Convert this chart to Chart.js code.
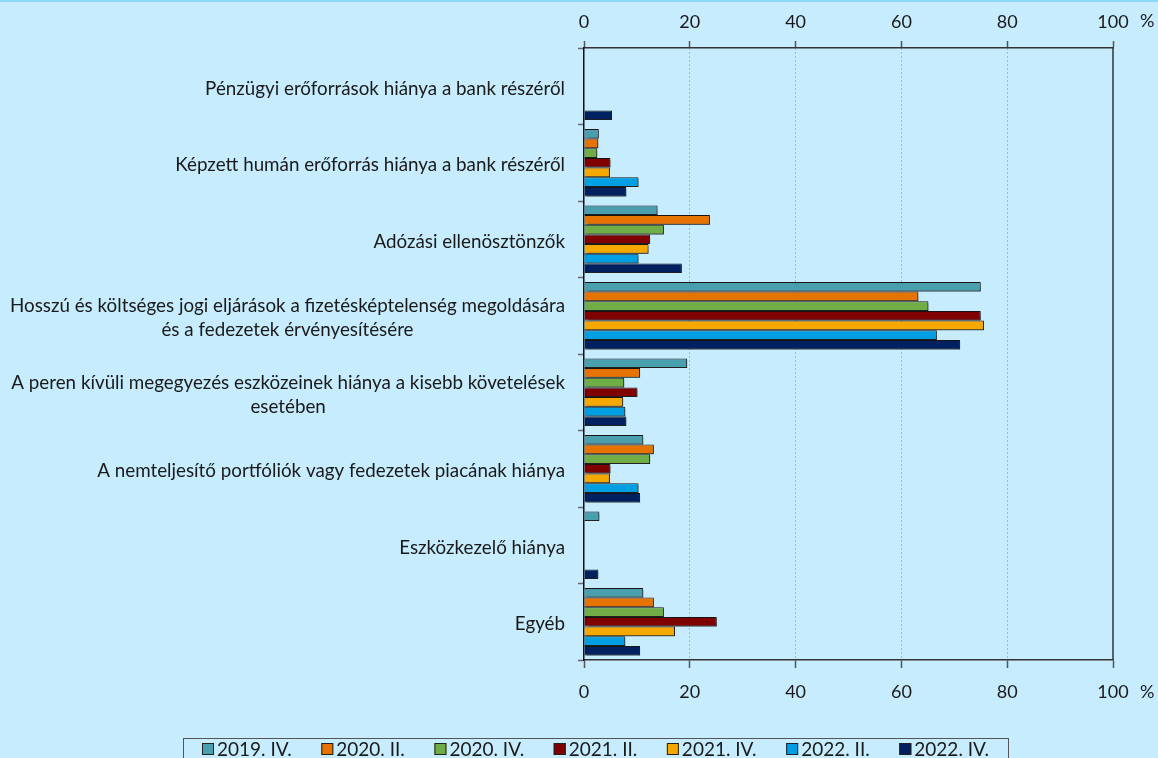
<!DOCTYPE html>
<html>
<head>
<meta charset="utf-8">
<script src="https://cdn.jsdelivr.net/npm/chart.js@4"></script>
<style>
  html, body { margin:0; padding:0; background:#C6ECFD; overflow:hidden; }
  #wrap { width:1158px; height:758px; position:relative; }
</style>
</head>
<body>
<div id="wrap"><canvas id="chart"></canvas></div>
<script>
// kategóriák (felülről lefelé)
const categories = [
  ["Pénzügyi erőforrások hiánya a bank részéről"],
  ["Képzett humán erőforrás hiánya a bank részéről"],
  ["Adózási ellenösztönzők"],
  ["Hosszú és költséges jogi eljárások a fizetésképtelenség megoldására", "és a fedezetek érvényesítésére"],
  ["A peren kívüli megegyezés eszközeinek hiánya a kisebb követelések", "esetében"],
  ["A nemteljesítő portfóliók vagy fedezetek piacának hiánya"],
  ["Eszközkezelő hiánya"],
  ["Egyéb"]
];

// felmérési időpontok
const seriesNames = ["2019. IV.", "2020. II.", "2020. IV.", "2021. II.", "2021. IV.", "2022. II.", "2022. IV."];
const seriesColors = ["#4A9FAF", "#E67300", "#70AD47", "#800000", "#F5A800", "#009FE3", "#002060"];

// értékek (%), null = nincs oszlop
const s2019IV = [null, 2.8, 13.9, 75.0, 19.5, 11.2, 2.9, 11.2];
const s2020II = [null, 2.7, 23.8, 63.2, 10.6, 13.2, null, 13.2];
const s2020IV = [null, 2.5, 15.1, 65.1, 7.6, 12.5, null, 15.1];
const s2021II = [null, 5.0, 12.5, 75.0, 10.1, 5.0, null, 25.1];
const s2021IV = [null, 4.9, 12.2, 75.6, 7.4, 4.9, null, 17.2];
const s2022II = [null, 10.3, 10.3, 66.7, 7.8, 10.3, null, 7.8];
const s2022IV = [5.3, 8.0, 18.5, 71.1, 8.0, 10.6, 2.7, 10.6];
const allSeries = [s2019IV, s2020II, s2020IV, s2021II, s2021IV, s2022II, s2022IV];

const xTicks = [0, 20, 40, 60, 80, 100];

const tickFont = { family: "Lato, 'Open Sans', sans-serif", size: 18 };
const labelFont = "18.8px Lato, 'Open Sans', sans-serif";
const legendFont = "19px 'Liberation Sans Narrow', Lato, sans-serif";
const textColor = "#1a1a1a";

// háttér + felső csík
const bgPlugin = {
  id: "bg",
  beforeDraw(chart){
    const c = chart.ctx;
    c.save();
    c.fillStyle = "#C6ECFD";
    c.fillRect(0, 0, chart.width, chart.height);
    c.fillStyle = "#8ED8F7";
    c.fillRect(0, 0, chart.width, 2);
    c.restore();
  }
};

// árnyék az oszlopokon
const shadowPlugin = {
  id: "shadow",
  beforeDatasetsDraw(chart){
    const c = chart.ctx;
    c.save();
    c.shadowColor = "rgba(40,40,40,0.55)";
    c.shadowOffsetX = 2;
    c.shadowOffsetY = 2;
    c.shadowBlur = 1;
  },
  afterDatasetsDraw(chart){
    chart.ctx.restore();
  }
};

// kategória feliratok, keret, % jel, jelmagyarázat
const extrasPlugin = {
  id: "extras",
  afterDraw(chart){
    const c = chart.ctx;
    const area = chart.chartArea;
    const yScale = chart.scales.y;
    c.save();

    // jobb oldali keret
    c.strokeStyle = "#333";
    c.lineWidth = 1.5;
    c.beginPath();
    c.moveTo(area.right, area.top);
    c.lineTo(area.right, area.bottom);
    c.stroke();

    // kategória feliratok (többsoros: középre zárt)
    c.font = labelFont;
    c.fillStyle = textColor;
    c.textAlign = "center";
    c.textBaseline = "middle";
    const rightEdge = 565;
    categories.forEach((lines, i) => {
      const y = yScale.getPixelForValue(i) + 2.5;
      const maxW = Math.max(...lines.map(l => c.measureText(l).width));
      const cx = rightEdge - maxW / 2;
      lines.forEach((l, j) => {
        c.fillText(l, cx, y + (j - (lines.length - 1) / 2) * 24);
      });
    });

    // % jelek
    c.font = tickFont.size + "px " + tickFont.family;
    c.textAlign = "left";
    c.fillText("%", area.right + 27, 21);
    c.fillText("%", area.right + 27, 692);

    // jelmagyarázat
    const boxL = 183, boxR = 1008, boxT = 738;
    c.strokeStyle = "#555";
    c.lineWidth = 1;
    c.strokeRect(boxL + 0.5, boxT + 0.5, boxR - boxL, 40);
    c.font = legendFont;
    c.textBaseline = "middle";
    const sq = 12, gapTxt = 3;
    const widths = seriesNames.map(n => sq + gapTxt + c.measureText(n).width);
    const pad = 19;
    const gap = (boxR - boxL - 2 * pad - widths.reduce((a, b) => a + b, 0)) / (seriesNames.length - 1);
    let x = boxL + pad;
    const ly = 749;
    seriesNames.forEach((n, i) => {
      c.fillStyle = seriesColors[i];
      c.fillRect(x, ly - sq / 2, sq, sq);
      c.strokeStyle = "#222";
      c.strokeRect(x + 0.5, ly - sq / 2 + 0.5, sq - 1, sq - 1);
      c.fillStyle = textColor;
      c.fillText(n, x + sq + gapTxt, ly + 1);
      x += widths[i] + gap;
    });
    c.restore();
  }
};

const gridColor = ctx => (ctx.tick && (ctx.tick.value === 0 || ctx.tick.value === 100)) ? "rgba(0,0,0,0)" : "#B4B4B4";

const xAxisBase = {
  min: 0,
  max: 100,
  afterBuildTicks: s => { s.ticks = xTicks.map(v => ({ value: v })); },
  border: { color: "#333", width: 1.5, dash: [2, 2] },
};

new Chart(document.getElementById("chart"), {
  type: "bar",
  data: {
    labels: categories.map(l => l.join(" ")),
    datasets: allSeries.map((data, i) => ({
      label: seriesNames[i],
      data: data,
      backgroundColor: seriesColors[i],
      borderColor: "#151515",
      borderWidth: 1,
      barPercentage: 1,
      categoryPercentage: 0.884,
      xAxisID: "x"
    }))
  },
  options: {
    indexAxis: "y",
    responsive: true,
    maintainAspectRatio: false,
    animation: false,
    layout: { padding: { left: 0, right: 45, top: 0, bottom: 0 } },
    plugins: { legend: { display: false }, tooltip: { enabled: false } },
    scales: {
      x: {
        ...xAxisBase,
        position: "bottom",
        afterFit: s => { s.height = 98; },
        ticks: { font: tickFont, color: textColor, padding: 13 },
        grid: { color: gridColor, lineWidth: 1, drawTicks: true, tickLength: 8, tickColor: "#555", tickWidth: 1.5, tickBorderDash: [] }
      },
      x2: {
        ...xAxisBase,
        position: "top",
        afterFit: s => { s.height = 48; },
        ticks: { font: tickFont, color: textColor, padding: 8 },
        grid: { drawOnChartArea: false, drawTicks: true, tickLength: 7, tickColor: "#555", tickWidth: 1.5, tickBorderDash: [] }
      },
      y: {
        type: "category",
        offset: true,
        afterFit: s => { s.width = 584; },
        ticks: { display: false },
        grid: { offset: true, drawOnChartArea: false, drawTicks: true, tickLength: 6, tickColor: "#667", tickWidth: 1.5 },
        border: { color: "#111", width: 1.5 }
      }
    }
  },
  plugins: [bgPlugin, shadowPlugin, extrasPlugin]
});
</script>
</body>
</html>
